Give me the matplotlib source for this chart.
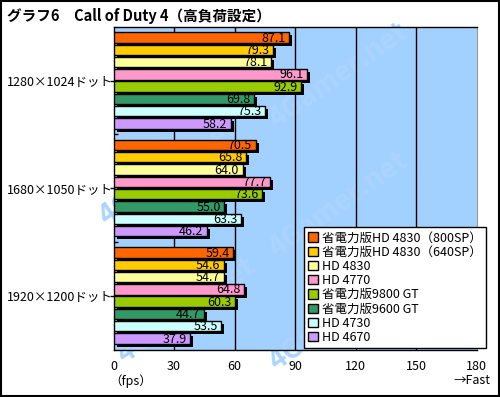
import numpy as np
import matplotlib
matplotlib.use("Agg")
import matplotlib.pyplot as plt
import matplotlib.transforms as mtransforms
from matplotlib.patches import Patch, Rectangle

plt.rcParams['font.family'] = ['Noto Sans CJK JP', 'DejaVu Sans']

resolutions = ["1280×1024ドット", "1680×1050ドット", "1920×1200ドット"]
cards = ["省電力版HD 4830（800SP）", "省電力版HD 4830（640SP）", "HD 4830", "HD 4770",
         "省電力版9800 GT", "省電力版9600 GT", "HD 4730", "HD 4670"]
colors = ["#ff6600", "#ffcc00", "#ffff99", "#ff99cc",
          "#99cc00", "#339966", "#ccffff", "#cc99ff"]
fps = [
    [87.1, 79.3, 78.1, 96.1, 92.9, 69.8, 75.3, 58.2],
    [70.5, 65.8, 64.0, 77.7, 73.6, 55.0, 63.3, 46.2],
    [59.4, 54.6, 54.7, 64.8, 60.3, 44.7, 53.5, 37.9],
]
xticks = [0, 30, 60, 90, 120, 150, 180]

fig = plt.figure(figsize=(5, 3.97), dpi=100)
ax = fig.add_axes([113.5 / 500, 47 / 397, 363 / 500, 323 / 397])
ax.set_facecolor("#a3d1ff")

# faint watermark
for (wx, wy) in [(0.62, 0.85), (0.15, 0.55), (0.62, 0.45), (0.2, 0.12), (0.62, 0.1)]:
    ax.text(wx, wy, "4Gamer.net", transform=ax.transAxes, rotation=35,
            fontsize=20, fontweight="bold", color="#abd5ff", ha="center",
            va="center", zorder=0)

gstep = 8.74
shadow = ax.transData + mtransforms.ScaledTranslation(3 / 100, -3 / 100, fig.dpi_scale_trans)
for g, vals in enumerate(fps):
    ys = g * gstep + np.arange(len(vals))
    for i, (y, v) in enumerate(zip(ys, vals)):
        ax.barh(y, v, height=0.84, color="black", transform=shadow, zorder=3)
        ax.barh(y, v, height=0.84, color=colors[i], edgecolor="black",
                linewidth=1, zorder=4)
        ax.text(v - 1.8, y + 0.05, f"{v:.1f}", ha="right", va="center",
                fontsize=9, zorder=5)

for x in xticks[1:-1]:
    ax.axvline(x, color="black", lw=1, zorder=2)

ax.set_xlim(0, 180)
ax.set_ylim(2 * gstep + 7 + 0.93, -0.85)

ax.set_xticks(xticks)
ax.set_xticklabels([str(t) for t in xticks], fontsize=9)
ax.tick_params(axis="x", length=0, pad=7)

centers = [g * gstep + 3.5 for g in range(3)]
ax.set_yticks(centers)
ax.set_yticklabels([])
ax.tick_params(axis="y", length=3, width=1)
ax.set_yticks([g * gstep + 7.87 for g in range(2)], minor=True)
ax.tick_params(axis="y", which="minor", direction="in", length=3, width=1)

lbl_tr = mtransforms.blended_transform_factory(fig.transFigure, ax.transData)
for c, r in zip(centers, resolutions):
    ax.text(7 / 500, c + 0.2, r, transform=lbl_tr, ha="left", va="center", fontsize=9)

for s in ["left", "bottom", "top"]:
    ax.spines[s].set_color("black")
    ax.spines[s].set_linewidth(1)
ax.spines["right"].set_color("#999999")

handles = [Patch(facecolor=c, edgecolor="black", linewidth=1) for c in colors]
leg = ax.legend(handles, cards, loc="upper left", bbox_to_anchor=(0.525, 0.381),
                fontsize=9, frameon=True, fancybox=False, edgecolor="black",
                handlelength=0.75, handleheight=0.75, handletextpad=0.3,
                labelspacing=0.1, borderpad=0.35, borderaxespad=0)
leg.get_frame().set_linewidth(1)
leg.get_frame().set_alpha(1)
leg.set_zorder(10)

fig.text(7 / 500, 1 - 16 / 397, "グラフ6　Call of Duty 4（高負荷設定）",
         fontsize=10.5, fontweight="bold", ha="left", va="center")
fig.text(109 / 500, 1 - 381 / 397, "（fps）", fontsize=9, ha="left", va="center")
fig.text(491 / 500, 1 - 381 / 397, "→Fast", fontsize=9, ha="right", va="center")

fig.patches.append(Rectangle((0.001, 0.002), 0.996, 0.996, transform=fig.transFigure,
                             fill=False, edgecolor="black", lw=1.5))

fig.savefig("out.png", dpi=100)
